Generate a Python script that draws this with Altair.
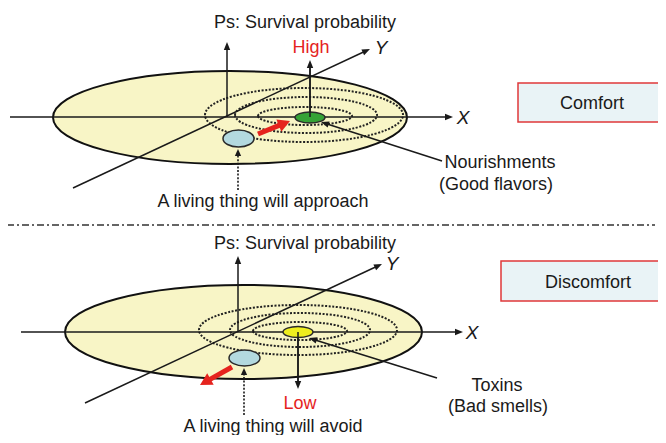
import math
import altair as alt
import pandas as pd

FONT = "Liberation Sans"
INK = "#1a1a1a"
RED = "#e5231e"

# ---- plates (large pale ellipses), top and bottom panels
plate_cx = [230, 243.5]
plate_cy = [117.5, 332]
plate_rx = [177, 178.5]
plate_ry = [46.5, 47]

# ---- dotted contour ellipses
contour_cx = [304, 306, 305, 298, 300, 300]
contour_cy = [115, 115, 116, 330, 330, 331]
contour_rx = [99, 71, 47, 99, 70, 47]
contour_ry = [27, 18, 9, 25, 17, 9]

# ---- small ellipses: nourishment, organism, toxin, organism
blob_cx = [310, 238.5, 298, 244.5]
blob_cy = [117.5, 138.5, 332, 358]
blob_rx = [15, 15.5, 15, 15.5]
blob_ry = [5.5, 8.5, 5.5, 8]
blob_fill = ["#35a336", "#b3d9df", "#eeee1e", "#b3d9df"]

# ---- solid arrows (start x, start y, tip x, tip y)
solid_x1 = [227, 10, 73, 310, 442, 238, 21, 85, 298, 437]
solid_y1 = [117, 117, 188, 117, 161, 332, 332, 403, 332, 378]
solid_x2 = [227, 453, 370, 310, 321, 238, 463, 382, 298, 309]
solid_y2 = [42, 117, 49, 60, 122, 256, 332, 264, 389, 338]

# ---- dotted arrows
dot_x1 = [238, 244]
dot_y1 = [190, 415]
dot_x2 = [238, 244]
dot_y2 = [149, 368]

# ---- red movement arrows
red_x1 = [258, 232]
red_y1 = [134, 367]
red_x2 = [290, 200]
red_y2 = [121, 385]

# ---- boxes
box_x1 = [518, 501]
box_x2 = [670, 670]
box_y1 = [83, 261]
box_y2 = [122, 301]
box_label = ["Comfort", "Discomfort"]
box_label_x = [592, 588]
box_label_y = [109, 288]

# ---- separator
sep_x = [7, 655]
sep_y = [225, 225]

# ---- texts
txt = ["Ps: Survival probability", "High", "X", "Y", "Nourishments", "(Good flavors)",
       "A living thing will approach",
       "Ps: Survival probability", "Low", "X", "Y", "Toxins", "(Bad smells)",
       "A living thing will avoid"]
txt_x = [305, 311, 463, 381, 500, 496, 263,
         305, 300, 472, 392, 497, 498, 273]
txt_y = [28, 53, 124, 54, 168, 190, 207,
         249, 409, 339, 270, 391, 412, 432]
txt_color = [INK, RED, INK, INK, INK, INK, INK,
             INK, RED, INK, INK, INK, INK, INK]
txt_italic = [False, False, True, True, False, False, False,
              False, False, True, True, False, False, False]

XDOM = [8, 658]
YDOM = [435, 8]


def X(f):
    return alt.X(f, type="quantitative", scale=alt.Scale(domain=XDOM, nice=False, zero=False), axis=None)


def Y(f):
    return alt.Y(f, type="quantitative", scale=alt.Scale(domain=YDOM, nice=False, zero=False), axis=None)


def ellipse_path(a):
    k = 0.5523
    return (f"M-1,0C-1,{-k*a:.4f},{-k:.4f},{-a:.4f},0,{-a:.4f}"
            f"C{k:.4f},{-a:.4f},1,{-k*a:.4f},1,0"
            f"C1,{k*a:.4f},{k:.4f},{a:.4f},0,{a:.4f}"
            f"C{-k:.4f},{a:.4f},-1,{k*a:.4f},-1,0Z")


def pt(x, y):
    return pd.DataFrame({"x": [x], "y": [y]})


layers = []

# plates
for cx, cy, rx, ry in zip(plate_cx, plate_cy, plate_rx, plate_ry):
    layers.append(alt.Chart(pt(cx, cy)).mark_point(
        shape=ellipse_path(ry / rx), size=(2 * rx) ** 2, filled=True,
        fill="#f8f5c6", stroke="#111111", strokeWidth=2, opacity=1
    ).encode(x=X("x"), y=Y("y")))

# contours
for cx, cy, rx, ry in zip(contour_cx, contour_cy, contour_rx, contour_ry):
    layers.append(alt.Chart(pt(cx, cy)).mark_point(
        shape=ellipse_path(ry / rx), size=(2 * rx) ** 2, filled=False,
        stroke="#222222", strokeWidth=2, strokeDash=[2, 1.6], opacity=1
    ).encode(x=X("x"), y=Y("y")))


def arrow_frames(x1s, y1s, x2s, y2s, head_len, back):
    rows_l, rows_h = [], []
    for x1, y1, x2, y2 in zip(x1s, y1s, x2s, y2s):
        dx, dy = x2 - x1, y2 - y1
        L = math.hypot(dx, dy)
        ux, uy = dx / L, dy / L
        ang = math.degrees(math.atan2(dx, -dy)) % 360
        rows_l.append({"x": x1, "y": y1, "x2": x2 - back * head_len * ux, "y2": y2 - back * head_len * uy})
        rows_h.append({"x": x2, "y": y2, "angle": ang})
    return pd.DataFrame(rows_l), pd.DataFrame(rows_h)


# solid arrows
sl, sh = arrow_frames(solid_x1, solid_y1, solid_x2, solid_y2, 8, 0.6)
layers.append(alt.Chart(sl).mark_rule(color=INK, strokeWidth=1.5).encode(
    x=X("x"), y=Y("y"), x2="x2", y2="y2"))
layers.append(alt.Chart(sh).mark_point(
    shape="M0,0L0.4,1L-0.4,1Z", size=4 * 8 ** 2, filled=True, color=INK, opacity=1, strokeWidth=0
).encode(x=X("x"), y=Y("y"), angle=alt.Angle("angle:Q", scale=None)))

# dotted arrows
dl, dh = arrow_frames(dot_x1, dot_y1, dot_x2, dot_y2, 7, 0.6)
layers.append(alt.Chart(dl).mark_rule(color=INK, strokeWidth=1.6, strokeDash=[2, 1.6]).encode(
    x=X("x"), y=Y("y"), x2="x2", y2="y2"))
layers.append(alt.Chart(dh).mark_point(
    shape="M0,0L0.45,1L-0.45,1Z", size=4 * 7 ** 2, filled=True, color=INK, opacity=1, strokeWidth=0
).encode(x=X("x"), y=Y("y"), angle=alt.Angle("angle:Q", scale=None)))

# small ellipses
for cx, cy, rx, ry, col in zip(blob_cx, blob_cy, blob_rx, blob_ry, blob_fill):
    layers.append(alt.Chart(pt(cx, cy)).mark_point(
        shape=ellipse_path(ry / rx), size=(2 * rx) ** 2, filled=True,
        fill=col, stroke="#2a2a2a", strokeWidth=1.5, opacity=1
    ).encode(x=X("x"), y=Y("y")))

# redraw the vertical Ps arrows of the sources on top of their ellipses
vl, vh = arrow_frames([solid_x1[3], solid_x1[8]], [solid_y1[3], solid_y1[8]],
                      [solid_x2[3], solid_x2[8]], [solid_y2[3], solid_y2[8]], 8, 0.6)
layers.append(alt.Chart(vl).mark_rule(color=INK, strokeWidth=1.5).encode(
    x=X("x"), y=Y("y"), x2="x2", y2="y2"))

# red arrows
rl, rh = arrow_frames(red_x1, red_y1, red_x2, red_y2, 12, 0.7)
layers.append(alt.Chart(rl).mark_rule(color=RED, strokeWidth=5).encode(
    x=X("x"), y=Y("y"), x2="x2", y2="y2"))
layers.append(alt.Chart(rh).mark_point(
    shape="M0,0L0.55,1L-0.55,1Z", size=4 * 12 ** 2, filled=True, color=RED, opacity=1, strokeWidth=0
).encode(x=X("x"), y=Y("y"), angle=alt.Angle("angle:Q", scale=None)))

# separator
layers.append(alt.Chart(pd.DataFrame({"x": [sep_x[0]], "x2": [sep_x[1]], "y": [sep_y[0]]})).mark_rule(
    color="#333333", strokeWidth=1.5, strokeDash=[7, 3, 2, 3]
).encode(x=X("x"), x2="x2", y=Y("y")))

# boxes
bx = pd.DataFrame({"x": box_x1, "x2": box_x2, "y": box_y1, "y2": box_y2})
layers.append(alt.Chart(bx).mark_rect(fill="#e9f3f6", stroke="#e0393a", strokeWidth=1.5).encode(
    x=X("x"), x2="x2", y=Y("y"), y2="y2"))
bl = pd.DataFrame({"x": box_label_x, "y": box_label_y, "t": box_label})
layers.append(alt.Chart(bl).mark_text(font=FONT, fontSize=18, color=INK, baseline="alphabetic").encode(
    x=X("x"), y=Y("y"), text="t:N"))

# texts
for t, x, y, c, it in zip(txt, txt_x, txt_y, txt_color, txt_italic):
    layers.append(alt.Chart(pd.DataFrame({"x": [x], "y": [y], "t": [t]})).mark_text(
        font=FONT, fontSize=19 if it else 18, fontStyle="italic" if it else "normal",
        color=c, baseline="alphabetic", align="center"
    ).encode(x=X("x"), y=Y("y"), text="t:N"))

chart = alt.layer(*layers).properties(
    width=650, height=427, padding=0,
    autosize=alt.AutoSizeParams(type="none"),
    background="white"
).configure_view(stroke=None)

chart.save("out.html", embed_options={"renderer": "svg", "actions": False})
